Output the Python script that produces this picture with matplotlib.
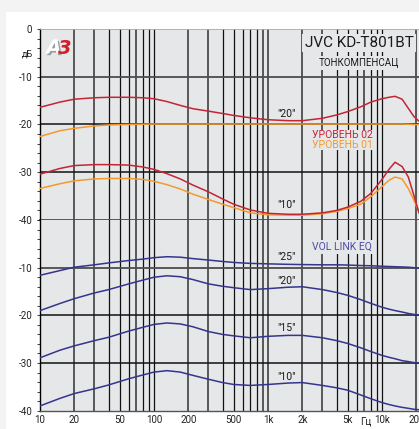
import matplotlib
matplotlib.use("Agg")
import matplotlib.pyplot as plt
from matplotlib import font_manager
from matplotlib.ticker import FixedLocator, NullLocator, MultipleLocator
from matplotlib.patches import Rectangle
import matplotlib.patheffects as pe

names = {f.name for f in font_manager.fontManager.ttflist}
COND = "Liberation Sans Narrow" if "Liberation Sans Narrow" in names else "Roboto"
plt.rcParams["font.family"] = [COND, "DejaVu Sans"]

# ---------------- data ----------------
freq = [10, 15, 20, 30, 40, 60, 80, 100, 130, 170, 220, 300, 400, 500, 700,
        1000, 1500, 2000, 3000, 4000, 5000, 6500, 8000, 10000, 11500, 13000,
        15000, 17000, 19000, 21100]

# upper panel (tonkompensation), dB
lvl02_vol20 = [-16.4, -15.3, -14.7, -14.4, -14.3, -14.3, -14.4, -14.6, -15.2, -16.0,
               -16.7, -17.2, -17.7, -18.1, -18.6, -19.0, -19.2, -19.2, -18.7, -18.0,
               -17.3, -16.3, -15.3, -14.6, -14.3, -14.1, -14.7, -16.6, -18.3, -19.3]
lvl01_vol20 = [-22.5, -21.3, -20.8, -20.3, -20.1, -20.0, -19.95, -19.9, -19.9, -19.9,
               -19.9, -19.9, -19.9, -19.9, -19.9, -19.9, -19.9, -19.9, -19.9, -19.9,
               -19.9, -19.9, -19.9, -19.9, -19.9, -19.9, -19.9, -19.95, -20.0, -20.0]
lvl02_vol10 = [-30.4, -29.2, -28.6, -28.4, -28.4, -28.5, -28.9, -29.4, -30.3, -31.4,
               -32.7, -34.1, -35.6, -36.7, -37.9, -38.6, -38.8, -38.8, -38.5, -38.0,
               -37.3, -36.1, -34.4, -31.5, -29.4, -27.9, -28.8, -31.0, -34.8, -38.5]
lvl01_vol10 = [-33.4, -32.4, -31.8, -31.4, -31.3, -31.3, -31.5, -31.9, -32.6, -33.5,
               -34.6, -35.7, -36.7, -37.4, -38.5, -38.9, -39.0, -39.0, -38.7, -38.2,
               -37.6, -36.7, -35.1, -33.0, -31.7, -31.0, -31.4, -33.4, -35.8, -38.3]

# lower panel (VOL LINK EQ), dB
vle_25 = [-11.6, -10.6, -9.9, -9.4, -9.0, -8.5, -8.2, -7.9, -7.7, -7.8, -8.1, -8.4,
          -8.7, -8.9, -9.1, -9.2, -9.3, -9.35, -9.4, -9.4, -9.45, -9.55, -9.6, -9.7,
          -9.75, -9.8, -9.85, -9.9, -10.0, -10.1]
vle_20 = [-19.0, -17.5, -16.5, -15.3, -14.6, -13.4, -12.6, -12.0, -11.7, -11.9, -12.5,
          -13.4, -13.9, -14.2, -14.6, -14.4, -14.1, -14.0, -14.6, -15.2, -15.8, -16.7,
          -17.5, -18.3, -18.7, -19.0, -19.3, -19.6, -19.8, -19.9]
vle_15 = [-28.9, -27.3, -26.4, -25.3, -24.6, -23.3, -22.5, -21.9, -21.6, -21.8, -22.4,
          -23.4, -24.0, -24.3, -24.7, -24.4, -24.2, -24.2, -24.7, -25.3, -25.9, -26.8,
          -27.6, -28.4, -28.8, -29.1, -29.5, -29.7, -29.9, -30.0]
vle_10 = [-39.0, -37.4, -36.4, -35.4, -34.6, -33.3, -32.5, -31.9, -31.6, -31.9, -32.6,
          -33.4, -34.1, -34.5, -34.7, -34.5, -34.2, -34.1, -34.7, -35.2, -35.7, -36.7,
          -37.5, -38.3, -38.7, -39.0, -39.3, -39.5, -39.7, -39.8]

xtick_vals = [10, 20, 50, 100, 200, 500, 1000, 2000, 5000, 10000, 20000]
xtick_labels = ["10", "20", "50", "100", "200", "500", "1k", "2k", "5k", "10k", "20k"]
ytick_top = [0, -10, -20, -30, -40]
ytick_bottom = [-10, -20, -30, -40]

# ---------------- styling ----------------
RED = "#c42535"
ORANGE = "#f39a2c"
BLUE = "#35348e"
BG = "#e6e7e9"
W, H = 419, 429

fig = plt.figure(figsize=(W / 100, H / 100), dpi=100, facecolor="white")
fig.add_artist(Rectangle((0, 1 - 12 / H), 1, 12 / H, transform=fig.transFigure,
                         facecolor="#f3f3f3", edgecolor="none", zorder=0))
fig.add_artist(Rectangle((0, 0), 6 / W, 1, transform=fig.transFigure,
                         facecolor="#f3f3f3", edgecolor="none", zorder=0))


def rect(l, t, r, b):
    return [l / W, 1 - b / H, (r - l) / W, (b - t) / H]


ax1 = fig.add_axes(rect(40, 29, 419, 220))
ax2 = fig.add_axes(rect(40, 220, 419, 410.7))

gray_f = {20, 30, 70, 200, 300, 900, 1000, 2000, 3000, 7000, 20000}
grid_f = [m * 10 ** e for e in range(1, 5) for m in range(1, 10)]
grid_f = [f for f in grid_f if 10 < f <= 20000]

for ax in (ax1, ax2):
    ax.set_xscale("log")
    ax.set_xlim(10, 21100)
    ax.set_ylim(-40, 0)
    ax.set_facecolor(BG)
    for f in grid_f:
        if f in gray_f:
            ax.axvline(f, color="#4d4d4d", lw=1.3, zorder=1)
        else:
            ax.axvline(f, color="#111111", lw=0.9, zorder=1)
    ax.axhline(-10, color="#4d4d4d", lw=1.3, zorder=1)
    ax.axhline(-20, color="#111111", lw=1.1, zorder=1)
    ax.axhline(-30, color="#111111", lw=1.1, zorder=1)
    ax.xaxis.set_minor_locator(NullLocator())
    ax.yaxis.set_minor_locator(MultipleLocator(2))
    ax.tick_params(axis="y", which="both", direction="out", length=2, width=0.6,
                   labelsize=7, pad=3, colors="#222222")
    ax.tick_params(axis="y", which="major", length=2.5)
    for s in ("right", "top", "bottom"):
        ax.spines[s].set_visible(False)
    ax.spines["left"].set_color("black")
    ax.spines["left"].set_linewidth(1.0)

ax1.axhline(-40, color="#4d4d4d", lw=1.3, zorder=1, clip_on=False)
ax1.spines["top"].set_visible(True)
ax1.spines["top"].set_color("#aaaaaa")
ax1.spines["top"].set_linewidth(0.6)
ax2.spines["bottom"].set_visible(True)
ax2.spines["bottom"].set_color("#555555")
ax2.spines["bottom"].set_linewidth(1.0)

ax1.yaxis.set_major_locator(FixedLocator(ytick_top))
ax1.set_yticklabels([str(v) for v in ytick_top])
ax1.xaxis.set_major_locator(NullLocator())
ax1.tick_params(axis="x", length=0, labelbottom=False)

ax2.yaxis.set_major_locator(FixedLocator(ytick_bottom))
ax2.set_yticklabels([str(v) for v in ytick_bottom])
ax2.xaxis.set_major_locator(FixedLocator(xtick_vals))
ax2.set_xticklabels(xtick_labels)
ax2.tick_params(axis="x", length=0, labelsize=7, pad=3, colors="#222222")

lw = 1.1
ax1.plot(freq, lvl01_vol20, color=ORANGE, lw=lw, zorder=3)
ax1.plot(freq, lvl02_vol20, color=RED, lw=lw, zorder=4)
ax1.plot(freq, lvl01_vol10, color=ORANGE, lw=lw, zorder=3)
ax1.plot(freq, lvl02_vol10, color=RED, lw=lw, zorder=4)
for s in (vle_25, vle_20, vle_15, vle_10):
    ax2.plot(freq, s, color=BLUE, lw=lw, zorder=3)


def ftext(x, y, s, **kw):
    kw.setdefault("ha", "center")
    kw.setdefault("va", "center")
    return fig.text(x / W, 1 - y / H, s, **kw)


box = dict(facecolor=BG, edgecolor="none", pad=1.5)
sbox = dict(facecolor=BG, edgecolor="none", pad=0.3)
ftext(359, 43, "JVC KD-T801BT", fontsize=11, color="#1a1a1a", bbox=box, zorder=5)
ftext(359, 63, "ТОНКОМПЕНСАЦ", fontsize=7, color="#1a1a1a", bbox=box, zorder=5)
ftext(286, 114, '"20"', fontsize=7.5, color="#1a1a1a")
ftext(342, 135, "УРОВЕНЬ 02", fontsize=7.5, color=RED, bbox=sbox, zorder=5)
ftext(342, 145, "УРОВЕНЬ 01", fontsize=7.5, color=ORANGE, bbox=sbox, zorder=5)
ftext(286, 205, '"10"', fontsize=7.5, color="#1a1a1a")
ftext(342, 247, "VOL LINK EQ", fontsize=7.5, color="#4a4aa8", bbox=box, zorder=5)
ftext(286, 257, '"25"', fontsize=7.5, color="#1a1a1a")
ftext(286, 281, '"20"', fontsize=7.5, color="#1a1a1a")
ftext(286, 328, '"15"', fontsize=7.5, color="#1a1a1a")
ftext(286, 377, '"10"', fontsize=7.5, color="#1a1a1a")
ftext(27, 54, "дБ", fontsize=6.5, color="#222222")
ftext(366, 422, "Гц", fontsize=7, color="#222222")

ftext(54, 48, "A", fontsize=14, fontweight="bold", color="white", style="italic",
      path_effects=[pe.withSimplePatchShadow(offset=(1.2, -1.2), shadow_rgbFace="#888888", alpha=0.8)],
      family=["DejaVu Sans"])
ftext(65, 48, "3", fontsize=14, fontweight="bold", color="#d0202a", style="italic",
      family=["DejaVu Sans"])

fig.savefig("out.png", dpi=100, facecolor="white")
